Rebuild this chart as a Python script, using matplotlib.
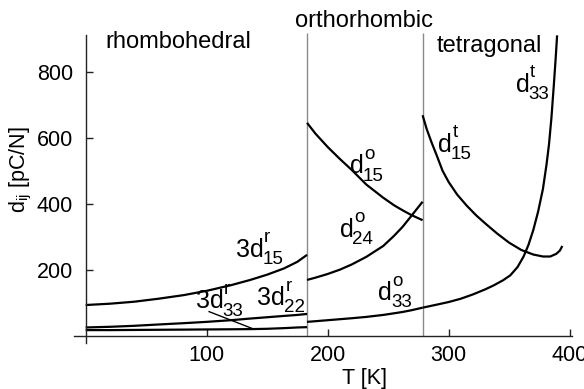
import matplotlib
matplotlib.use("Agg")
import matplotlib.pyplot as plt

plt.rcParams["font.family"] = ["Liberation Sans", "DejaVu Sans"]
plt.rcParams["mathtext.fontset"] = "custom"
plt.rcParams["mathtext.rm"] = "Liberation Sans"
plt.rcParams["mathtext.default"] = "regular"

# phase boundaries [K]
t_ro = 183
t_ot = 278.5

# rhombohedral phase
t_rhombo = [0, 20, 40, 60, 81, 100, 120, 136, 150, 164, 175, 183]
d15_r = [93, 97, 103, 112, 123, 136, 153, 169, 185, 204, 224, 245]
d22_r = [25, 27, 30, 34, 38, 42, 47, 52, 56, 60, 63, 66]
d33_r = [17, 17, 17.5, 18, 18.5, 19, 19.5, 20, 21, 23, 25, 26]

# orthorhombic phase
t_ortho = [183, 190, 200, 210, 220, 232, 246, 255, 262, 269, 278.5]
d15_o = [645, 612, 572, 536, 502, 458, 418, 395, 380, 366, 350]
d24_o = [169, 176, 187, 200, 216, 239, 272, 303, 330, 362, 406]
d33_o = [42, 44, 47, 50, 53, 57, 63, 68, 72, 77, 85]

# tetragonal phase
t_tetra15 = [278.5, 282, 286, 290, 295, 300, 307, 315, 323, 331, 340,
             350, 360, 370, 378, 384, 389, 392, 394]
d15_t = [668, 625, 585, 548, 500, 466, 428, 394, 364, 338, 310,
         282, 260, 246, 240, 240, 248, 258, 272]
t_tetra33 = [278.5, 290, 300, 310, 320, 330, 337, 345, 351, 357, 362, 366,
             370, 374, 378, 381, 383, 385, 387, 388.5, 389.7]
d33_t = [85, 94, 102, 112, 125, 140, 152, 168, 183, 208, 240, 275,
         320, 376, 445, 520, 580, 660, 760, 840, 910]

# pointer from the 3d33 label down to its curve
pointer_t = [102, 139]
pointer_d = [73, 20]

x_ticks = [100, 200, 300, 400]
y_ticks = [200, 400, 600, 800]

fig = plt.figure(figsize=(5.84, 3.89), dpi=100)
ax = fig.add_axes([0.126, 0.1183, 0.8555, 0.795])
ax.set_xlim(-10, 403)
ax.set_ylim(-22, 915)

ax.vlines([t_ro, t_ot], 0, 918, color="#8a8a8a", lw=1.0, clip_on=False)

line_kw = dict(color="black", lw=1.6, solid_capstyle="butt")
for t, d in [(t_rhombo, d15_r), (t_rhombo, d22_r), (t_rhombo, d33_r),
             (t_ortho, d15_o), (t_ortho, d24_o), (t_ortho, d33_o),
             (t_tetra15, d15_t), (t_tetra33, d33_t)]:
    ax.plot(t, d, **line_kw)
ax.plot(pointer_t, pointer_d, color="black", lw=1.0)

for side in ["top", "right"]:
    ax.spines[side].set_visible(False)
ax.spines["left"].set_position(("data", 0))
ax.spines["bottom"].set_position(("data", 0))
ax.spines["left"].set_bounds(-22, 912)
ax.spines["bottom"].set_bounds(-10, 402)
for side in ["left", "bottom"]:
    ax.spines[side].set_color("#222222")
    ax.spines[side].set_linewidth(1.0)

ax.set_xticks(x_ticks)
ax.set_yticks(y_ticks)
ax.tick_params(axis="both", direction="in", length=5, width=1.0,
               color="#222222", labelsize=15.5)
ax.tick_params(axis="y", pad=9)
ax.tick_params(axis="x", pad=6.5)

ax.set_xlabel("T [K]", fontsize=15.5)
ax.xaxis.set_label_coords(0.583, -0.081)
ax.set_ylabel(r"$d_{ij}$ [pC/N]", fontsize=15.5)
ax.yaxis.set_label_coords(-0.08, 0.56)

# phase names
ax.text(16, 871, "rhombohedral", fontsize=17, va="baseline")
ax.text(173, 936, "orthorhombic", fontsize=17, va="baseline", clip_on=False)
ax.text(290, 861, "tetragonal", fontsize=17, va="baseline")


def coeff_label(x, y, base, sub, sup):
    t = ax.text(x, y, base, fontsize=18, va="baseline", ha="left")
    ax.annotate(sup, xy=(1, 0), xycoords=t, xytext=(0.3, 14),
                textcoords="offset points", fontsize=13.5, va="baseline")
    ax.annotate(sub, xy=(1, 0), xycoords=t, xytext=(-0.8, -1.6),
                textcoords="offset points", fontsize=13.5, va="baseline")


coeff_label(124, 239, "3d", "15", "r")
coeff_label(91, 83, "3d", "33", "r")
coeff_label(142, 93, "3d", "22", "r")
coeff_label(218.5, 492, "d", "15", "o")
coeff_label(210, 300, "d", "24", "o")
coeff_label(242, 108, "d", "33", "o")
coeff_label(291.4, 557, "d", "15", "t")
coeff_label(355.6, 739, "d", "33", "t")

fig.savefig("out.png", dpi=100)
